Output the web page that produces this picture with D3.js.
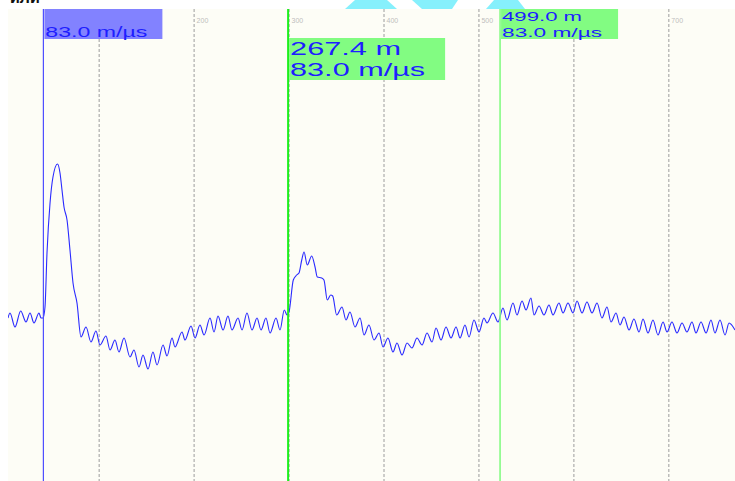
<!DOCTYPE html>
<html>
<head>
<meta charset="utf-8">
<script src="https://cdn.jsdelivr.net/npm/d3@7"></script>
<style>
  html, body { margin: 0; padding: 0; background: #ffffff; }
  svg { display: block; }
</style>
</head>
<body>
<svg id="chart" width="735" height="481"></svg>
<script>
// Reflectogram trace: sample index (40 samples per µs) against signal level
const gridTicks = [100, 200, 300, 400, 500, 600, 700];

const traceSample = [
  4.5, 6.6, 11.9, 17.9, 23.5, 27.7, 31.9, 37.2, 39.3, 41.4, 43.5, 45.6, 48.8, 51.9, 56.7,
  59.3, 61.4, 63.5, 66.7, 69.8, 73.0, 77.2, 81.4, 86.7, 91.9, 97.2, 101.4, 107.7, 112.0,
  117.2, 121.4, 126.7, 133.0, 137.2, 142.5, 146.7, 152.0, 157.2, 161.5, 167.8, 172.0,
  177.3, 180.4, 187.8, 190.9, 197.3, 201.5, 206.7, 211.0, 217.3, 221.5, 225.7, 231.0,
  236.2, 240.4, 246.8, 251.0, 256.2, 261.5, 266.8, 271.0, 276.2, 280.5, 286.8, 291.0,
  295.5, 298.4, 300.5, 305.0, 308.6, 311.0, 313.9, 316.3, 319.7, 324.4, 327.9, 330.3,
  334.9, 337.3, 340.8, 344.4, 346.5, 350.7, 356.3, 360.5, 364.7, 370.0, 375.3, 379.5,
  384.7, 390.0, 395.3, 399.5, 404.7, 410.0, 414.2, 419.5, 424.8, 430.0, 435.3, 440.6,
  445.8, 451.1, 455.3, 460.6, 465.8, 471.1, 476.4, 480.6, 485.8, 490.1, 495.3, 500.6,
  505.8, 509.0, 515.3, 520.6, 525.8, 530.1, 536.4, 540.6, 545.9, 550.1, 555.3, 558.5,
  563.8, 569.0, 574.3, 578.5, 584.8, 589.1, 594.3, 599.6, 603.8, 609.1, 614.3, 619.6,
  624.9, 630.1, 635.4, 639.6, 644.9, 649.1, 653.3, 658.6, 663.8, 669.1, 673.3, 678.6,
  683.8, 689.1, 694.4, 698.6, 703.8, 709.1, 714.4, 719.6, 724.9, 729.1, 734.4, 739.7,
  744.9, 749.1, 754.4, 759.7, 763.9, 770.2
];

const traceLevel = [
  163, 168, 154, 170, 159, 168, 158, 168, 163, 163, 174, 228, 278, 304, 317,
  308, 291, 274, 261, 231, 198, 178, 144, 154, 139, 150, 136, 145, 131,
  141, 129, 143, 124, 131, 114, 126, 112, 129, 116, 136, 125,
  143, 134, 149, 141, 155, 143, 156, 146, 163, 149, 165, 151,
  165, 151, 163, 151, 168, 151, 163, 151, 163, 148, 163, 151,
  171, 166, 169, 201, 206, 208, 221, 229, 216, 225, 214, 204,
  203, 201, 181, 186, 185, 166, 174, 161, 169, 154, 163, 146,
  156, 141, 148, 134, 143, 129, 138, 126, 138, 133, 143, 136,
  148, 139, 153, 141, 154, 143, 154, 143, 156, 144, 161, 149,
  163, 158, 168, 159, 173, 161, 178, 166, 180, 171, 183, 166,
  175, 166, 176, 166, 178, 168, 178, 168, 180, 168, 179, 168,
  178, 163, 174, 159, 168, 156, 164, 151, 162, 149, 162, 148,
  161, 146, 159, 149, 159, 148, 158, 149, 159, 148, 159, 148,
  161, 148, 161, 146, 158, 151
];

// Cursors: distance readouts at a propagation velocity of 83.0 m/µs
const velocity = 83.0;          // m/µs
const samplesPerMicro = 40;     // samples per µs
const cursorOrigin = 41.8;      // sample index of the reference cursor
const cursorDistances = [0, 267.4, 499.0];
const cursorNames = ["ref", "A", "B"];

const svg = d3.select("#chart");
const W = 735, H = 481;
const plot = { left: 8, top: 9, right: 735, bottom: 481 };

const x = d3.scaleLinear().domain([0, 700]).range([3.7, 668.35]);
const y = d3.scaleLinear().domain([0, 472]).range([plot.bottom, plot.top]);

const sampleAt = d => cursorOrigin + d * 2 / velocity * samplesPerMicro;

// Header strip decorations
svg.append("text")
  .attr("x", 10).attr("y", 3)
  .attr("font-family", "Liberation Sans, Arial, sans-serif")
  .attr("font-weight", "bold").attr("font-size", 16)
  .attr("fill", "#111").text("или");

const cyan = "#86f0fc";
[
  [[355, 0], [387, 0], [397, 9], [345, 9]],
  [[412, 0], [458, 0], [452, 9], [422, 9]],
  [[494, 0], [518, 0], [525, 9], [486, 9]]
].forEach(p => svg.append("polygon")
  .attr("points", p.map(q => q.join(",")).join(" "))
  .attr("fill", cyan));

// Plot background
svg.append("rect")
  .attr("x", plot.left).attr("y", plot.top)
  .attr("width", plot.right - plot.left).attr("height", plot.bottom - plot.top)
  .attr("fill", "#fdfdf6");

const clip = svg.append("clipPath").attr("id", "plotClip")
  .append("rect")
  .attr("x", plot.left).attr("y", plot.top)
  .attr("width", plot.right - plot.left).attr("height", plot.bottom - plot.top);

// Dashed grid with sample labels along the top
const grid = svg.append("g")
  .attr("transform", `translate(0,${plot.top})`)
  .call(d3.axisBottom(x).tickValues(gridTicks).tickSize(plot.bottom - plot.top).tickFormat(d3.format("d")));
grid.select(".domain").remove();
grid.selectAll(".tick line")
  .attr("stroke", "#9c9c9c").attr("stroke-width", 1)
  .attr("stroke-dasharray", "3,2");
grid.selectAll(".tick text")
  .attr("y", 14).attr("dy", 0).attr("x", 2.5)
  .attr("text-anchor", "start")
  .attr("font-family", "Liberation Sans, Arial, sans-serif")
  .attr("font-size", 7).attr("fill", "#bdbdbd");

// Trace
const line = d3.line()
  .x((d, i) => x(traceSample[i]))
  .y((d, i) => y(traceLevel[i]))
  .curve(d3.curveMonotoneX);

svg.append("path")
  .datum(traceSample)
  .attr("clip-path", "url(#plotClip)")
  .attr("d", line)
  .attr("fill", "none")
  .attr("stroke", "#2a2aff")
  .attr("stroke-width", 1.1);

// Cursor lines
const cursorStyle = {
  ref: { stroke: "#4d4dff", width: 1.2 },
  A: { stroke: "#1cf01c", width: 2 },
  B: { stroke: "#7dfb7d", width: 1.5 }
};
cursorDistances.forEach((d, i) => {
  const cx = x(sampleAt(d));
  svg.append("line")
    .attr("x1", cx).attr("x2", cx)
    .attr("y1", plot.top).attr("y2", plot.bottom)
    .attr("stroke", cursorStyle[cursorNames[i]].stroke)
    .attr("stroke-width", cursorStyle[cursorNames[i]].width);
});

// Cursor readout boxes
const fontFam = "Liberation Sans, Arial, sans-serif";
const textBlue = "#1e1eff";
function readout(cx, top, w, h, fill, lines) {
  const g = svg.append("g");
  g.append("rect")
    .attr("x", cx + 1).attr("y", top)
    .attr("width", w).attr("height", h)
    .attr("fill", fill);
  lines.forEach(l => {
    g.append("text")
      .attr("x", cx + 2).attr("y", l.base)
      .attr("font-family", fontFam).attr("font-size", l.size)
      .attr("fill", textBlue)
      .attr("textLength", l.len).attr("lengthAdjust", "spacingAndGlyphs")
      .text(l.text);
  });
}

const vText = `${velocity.toFixed(1)} m/µs`;
const xRef = x(sampleAt(cursorDistances[0]));
const xA = x(sampleAt(cursorDistances[1]));
const xB = x(sampleAt(cursorDistances[2]));

readout(xRef, plot.top, 118, 30, "#8282ff", [
  { text: vText, base: 37, size: 14.5, len: 102 }
]);
readout(xA, 38, 156, 42, "#82fc82", [
  { text: `${cursorDistances[1].toFixed(1)} m`, base: 55, size: 18.5, len: 111 },
  { text: vText, base: 76, size: 18.5, len: 135 }
]);
readout(xB, plot.top, 117, 30, "#82fc82", [
  { text: `${cursorDistances[2].toFixed(1)} m`, base: 21, size: 13.5, len: 80 },
  { text: vText, base: 37, size: 13.5, len: 100 }
]);
</script>
</body>
</html>
